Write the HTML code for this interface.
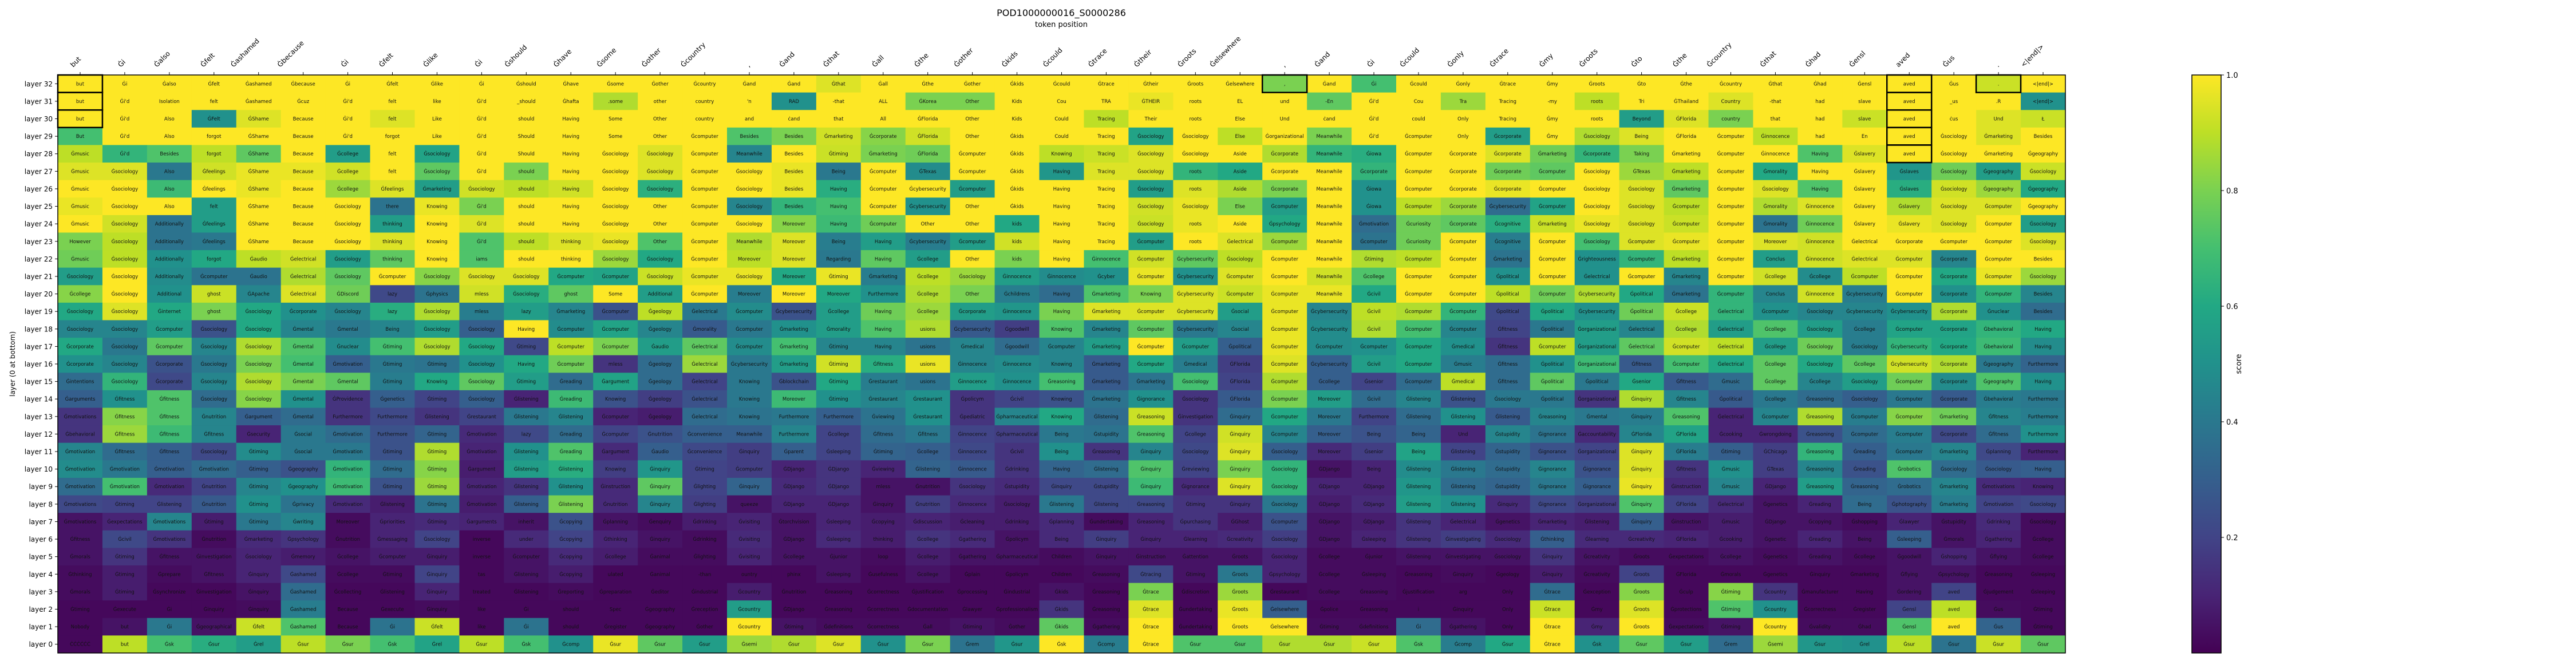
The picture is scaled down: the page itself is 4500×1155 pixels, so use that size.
<!DOCTYPE html>
<html><head><meta charset="utf-8"><title>POD1000000016_S0000286</title>
<style>
html,body{margin:0;padding:0;background:#fff;}
svg{display:block;}
text{font-family:"DejaVu Sans","Liberation Sans",sans-serif;}
</style></head>
<body>
<svg id="chart" xmlns="http://www.w3.org/2000/svg" width="4500" height="1155" viewBox="0 0 4500 1155">
  <defs>
    <linearGradient id="viridis" x1="0" y1="1" x2="0" y2="0">
      <stop offset="0" stop-color="#440154"/><stop offset="0.1" stop-color="#482475"/>
      <stop offset="0.2" stop-color="#414487"/><stop offset="0.3" stop-color="#355f8d"/>
      <stop offset="0.4" stop-color="#2a788e"/><stop offset="0.5" stop-color="#21918c"/>
      <stop offset="0.6" stop-color="#22a884"/><stop offset="0.7" stop-color="#44bf70"/>
      <stop offset="0.8" stop-color="#7ad151"/><stop offset="0.9" stop-color="#bddf26"/>
      <stop offset="1" stop-color="#fde725"/>
    </linearGradient>
  </defs>
  <text x="1854" y="28" text-anchor="middle" font-size="16">POD1000000016_S0000286</text>
  <text x="1854" y="47" text-anchor="middle" font-size="13">token position</text>
  <text transform="translate(26,636) rotate(-90)" text-anchor="middle" font-size="12">layer (0 at bottom)</text>
  <g id="cells"></g>
  <g id="xticks"></g>
  <g id="yticks"></g>
  <g id="boxes"></g>
  <rect x="101" y="131" width="3507" height="1010" fill="none" stroke="#000" stroke-width="1.5"/>
  <g id="cbar">
    <rect x="3829" y="131" width="51" height="1010" fill="url(#viridis)" stroke="#000" stroke-width="1.5"/>
    <text transform="translate(3915,636) rotate(-90)" text-anchor="middle" font-size="13">score</text>
  </g>
</svg>
<script>
const tokens = "but Ġi Ġalso Ġfelt Ġashamed Ġbecause Ġi Ġfelt Ġlike Ġi Ġshould Ġhave Ġsome Ġother Ġcountry , Ġand Ġthat Ġall Ġthe Ġother Ġkids Ġcould Ġtrace Ġtheir Ġroots Ġelsewhere , Ġand Ġi Ġcould Ġonly Ġtrace Ġmy Ġroots Ġto Ġthe Ġcountry Ġthat Ġhad Ġensl aved Ġus . <|end|>".split(" ");
const layerLabels = [32,31,30,29,28,27,26,25,24,23,22,21,20,19,18,17,16,15,14,13,12,11,10,9,8,7,6,5,4,3,2,1,0];
const cbTicks = [0.2,0.4,0.6,0.8,1.0];
const cbTickLabels = ["0.2","0.4","0.6","0.8","1.0"];
const highlighted = [[32,0],[31,0],[30,0],[32,27],[32,41],[31,41],[30,41],[29,41],[28,41],[32,43]];

const cellText = [
"but Ġi Ġalso Ġfelt Ġashamed Ġbecause Ġi Ġfelt Ġlike Ġi Ġshould Ġhave Ġsome Ġother Ġcountry | Ġand Ġand Ġthat Ġall Ġthe Ġother Ġkids Ġcould Ġtrace Ġtheir Ġroots Ġelsewhere , Ġand Ġi | Ġcould Ġonly Ġtrace Ġmy Ġroots Ġto Ġthe Ġcountry Ġthat Ġhad Ġensl aved Ġus . <|end|>",
"but Ġi'd Isolation felt Ġashamed Ġcuz Ġi'd felt like Ġi'd _should Ġhafta .some other country | 'n RAD -that ALL ĠKorea Other Kids Cou TRA ĠTHEIR roots EL und -En Ġi'd | Cou Tra Tracing -my roots Tri ĠThailand Country -that had slave aved _us .R <|end|>",
"but Ġi'd Also ĠFelt ĠShame Because Ġi'd felt Like Ġi'd should Having Some Other country | and ċand that All ĠFlorida Other Kids Could Tracing Their roots Else Und ċand Ġi'd | could Only Tracing Ġmy roots Beyond ĠFlorida country that had slave aved ċus Und Ł",
"But Ġi'd Also forgot ĠShame Because Ġi'd forgot Like Ġi'd Should Having Some Other Ġcomputer | Besides Besides Ġmarketing Ġcorporate ĠFlorida Other Ġkids Could Tracing Ġsociology Ġsociology Else Ġorganizational Meanwhile Ġi'd | Ġcomputer Only Ġcorporate Ġmy Ġsociology Being ĠFlorida Ġcomputer Ġinnocence had En aved Ġsociology Ġmarketing Besides",
"Ġmusic Ġi'd Besides forgot ĠShame Because Ġcollege felt Ġsociology Ġi'd Should Having Ġsociology Ġsociology Ġcomputer | Meanwhile Besides Ġtiming Ġmarketing ĠFlorida Ġcomputer Ġkids Knowing Tracing Ġsociology Ġsociology Aside Ġcorporate Meanwhile Ġiowa | Ġcomputer Ġcorporate Ġcorporate Ġmarketing Ġcorporate Taking Ġmarketing Ġcomputer Ġinnocence Having Ġslavery aved Ġsociology Ġmarketing Ġgeography",
"Ġmusic Ġsociology Also Ġfeelings ĠShame Because Ġcollege felt Ġsociology Ġi'd should Having Ġsociology Ġsociology Ġcomputer | Ġsociology Besides Being Ġcomputer ĠTexas Ġcomputer Ġkids Having Tracing Ġsociology roots Aside Ġcorporate Meanwhile Ġcorporate | Ġcomputer Ġcorporate Ġcorporate Ġcomputer Ġsociology ĠTexas Ġmarketing Ġcomputer Ġmorality Having Ġslavery Ġslaves Ġsociology Ġgeography Ġsociology",
"Ġmusic Ġsociology Also Ġfeelings ĠShame Because Ġcollege Ġfeelings Ġmarketing Ġsociology should Having Ġsociology Ġsociology Ġcomputer | Ġsociology Besides Having Ġcomputer Ġcybersecurity Ġcomputer Ġkids Having Tracing Ġsociology roots Aside Ġcorporate Meanwhile Ġiowa | Ġcomputer Ġcorporate Ġcorporate Ġcomputer Ġsociology Ġsociology Ġmarketing Ġcomputer Ġsociology Having Ġslavery Ġslaves Ġsociology Ġgeography Ġgeography",
"Ġmusic Ġsociology Also felt ĠShame Because Ġsociology there Knowing Ġi'd should Having Ġsociology Other Ġcomputer | Ġsociology Besides Having Ġcomputer Ġcybersecurity Other Ġkids Having Tracing Ġsociology Ġsociology Else Ġcomputer Meanwhile Ġiowa | Ġcomputer Ġcorporate Ġcybersecurity Ġcomputer Ġsociology Ġsociology Ġcomputer Ġcomputer Ġmorality Ġinnocence Ġslavery Ġslavery Ġsociology Ġcomputer Ġgeography",
"Ġmusic Ġsociology Additionally Ġfeelings ĠShame Because Ġsociology thinking Knowing Ġi'd should Having Ġsociology Other Ġcomputer | Ġsociology Moreover Having Ġcomputer Other Other kids Having Tracing Ġsociology roots Aside Ġpsychology Meanwhile Ġmotivation | Ġcuriosity Ġcorporate Ġcognitive Ġmarketing Ġsociology Ġsociology Ġcomputer Ġcomputer Ġmorality Ġinnocence Ġslavery Ġslavery Ġsociology Ġcomputer Ġsociology",
"However Ġsociology Additionally Ġfeelings ĠShame Because Ġsociology thinking Knowing Ġi'd should thinking Ġsociology Other Ġcomputer | Meanwhile Moreover Being Having Ġcybersecurity Ġcomputer kids Having Tracing Ġcomputer roots Ġelectrical Ġcomputer Meanwhile Ġcomputer | Ġcuriosity Ġcomputer Ġcognitive Ġcomputer Ġsociology Ġcomputer Ġcomputer Ġcomputer Moreover Ġinnocence Ġelectrical Ġcorporate Ġcomputer Ġcomputer Ġsociology",
"Ġmusic Ġsociology Additionally forgot Ġaudio Ġelectrical Ġsociology thinking Knowing iams should thinking Ġsociology Ġsociology Ġcomputer | Moreover Moreover Regarding Having Ġcollege Other kids Having Ġinnocence Ġcomputer Ġcybersecurity Ġsociology Ġcomputer Meanwhile Ġtiming | Ġcomputer Ġcomputer Ġmarketing Ġcomputer Ġrighteousness Ġcomputer Ġmarketing Ġcomputer Conclus Ġinnocence Ġelectrical Ġcomputer Ġcorporate Ġcomputer Besides",
"Ġsociology Ġsociology Additionally Ġcomputer Ġaudio Ġelectrical Ġsociology Ġcomputer Ġsociology Ġsociology Ġsociology Ġcomputer Ġcomputer Ġsociology Ġcomputer | Ġsociology Moreover Ġtiming Ġmarketing Ġcollege Ġsociology Ġinnocence Ġinnocence Ġcyber Ġcomputer Ġcybersecurity Ġcomputer Ġcomputer Meanwhile Ġcollege | Ġcomputer Ġcomputer Ġpolitical Ġcomputer Ġelectrical Ġcomputer Ġmarketing Ġcomputer Ġcollege Ġcollege Ġcomputer Ġcomputer Ġcorporate Ġcomputer Ġsociology",
"Ġcollege Ġsociology Additional ghost ĠApache Ġelectrical ĠDiscord lazy Ġphysics mless Ġsociology ghost Some Additional Ġcomputer | Moreover Moreover Moreover Furthermore Ġcollege Other Ġchildrens Having Ġmarketing Knowing Ġcybersecurity Ġcomputer Ġcomputer Meanwhile Ġcivil | Ġcomputer Ġcomputer Ġpolitical Ġcomputer Ġcybersecurity Ġpolitical Ġmarketing Ġcomputer Conclus Ġinnocence Ġcybersecurity Ġcomputer Ġcorporate Ġcomputer Besides",
"Ġsociology Ġsociology Ġinternet ghost Ġsociology Ġcorporate Ġsociology lazy Ġsociology mless lazy Ġmarketing Ġcomputer Ġgeology Ġelectrical | Ġcomputer Ġcybersecurity Ġcollege Having Ġcollege Ġcorporate Ġinnocence Having Ġmarketing Ġcomputer Ġcybersecurity Ġsocial Ġcomputer Ġcybersecurity Ġcivil | Ġcomputer Ġcomputer Ġpolitical Ġpolitical Ġcybersecurity Ġpolitical Ġcollege Ġelectrical Ġcomputer Ġsociology Ġcybersecurity Ġcybersecurity Ġcorporate Ġnuclear Besides",
"Ġsociology Ġsociology Ġcomputer Ġsociology Ġsociology Ġmental Ġmental Being Ġsociology Ġsociology Having Ġcomputer Ġcomputer Ġgeology Ġmorality | Ġcomputer Ġmarketing Ġmorality Having usions Ġcybersecurity Ġgoodwill Knowing Ġmarketing Ġcomputer Ġcybersecurity Ġsocial Ġcomputer Ġcybersecurity Ġcivil | Ġcomputer Ġcomputer Ġfitness Ġpolitical Ġorganizational Ġelectrical Ġcollege Ġelectrical Ġcollege Ġsociology Ġcollege Ġcomputer Ġcorporate Ġbehavioral Having",
"Ġcorporate Ġsociology Ġcomputer Ġsociology Ġsociology Ġmental Ġnuclear Ġtiming Ġsociology Ġsociology Ġtiming Ġcomputer Ġcomputer Ġaudio Ġelectrical | Ġcomputer Ġmarketing Ġtiming Having usions Ġmedical Ġgoodwill Ġcomputer Ġmarketing Ġcomputer Ġcomputer Ġpolitical Ġcomputer Ġcomputer Ġcomputer | Ġcomputer Ġmedical Ġfitness Ġcomputer Ġorganizational Ġelectrical Ġcomputer Ġelectrical Ġcollege Ġsociology Ġsociology Ġcybersecurity Ġcorporate Ġbehavioral Having",
"Ġcorporate Ġsociology Ġcorporate Ġsociology Ġsociology Ġmental Ġmotivation Ġtiming Ġtiming Ġsociology Having Ġcomputer mless Ġgeology Ġelectrical | Ġcybersecurity Ġmarketing Ġtiming Ġfitness usions Ġinnocence Ġinnocence Knowing Ġmarketing Ġcomputer Ġmedical ĠFlorida Ġcomputer Ġcybersecurity Ġcivil | Ġcomputer Ġmusic Ġfitness Ġpolitical Ġorganizational Ġfitness Ġcomputer Ġelectrical Ġcollege Ġsociology Ġcollege Ġcybersecurity Ġcorporate Ġgeography Furthermore",
"Ġintentions Ġsociology Ġcorporate Ġsociology Ġsociology Ġmental Ġmental Ġtiming Knowing Ġsociology Ġtiming Ġreading Ġargument Ġgeology Ġelectrical | Knowing Ġblockchain Ġtiming Ġrestaurant usions Ġinnocence Ġinnocence Ġreasoning Ġmarketing Ġmarketing Ġsociology ĠFlorida Ġcomputer Ġcollege Ġsenior | Ġcomputer Ġmedical Ġfitness Ġpolitical Ġpolitical Ġsenior Ġfitness Ġmusic Ġcollege Ġcollege Ġsociology Ġcomputer Ġcorporate Ġgeography Having",
"Ġarguments Ġfitness Ġfitness Ġsociology Ġsociology Ġmental ĠProvidence Ġgenetics Ġtiming Ġsociology Ġlistening Ġreading Knowing Ġgeology Ġelectrical | Knowing Moreover Ġtiming Ġrestaurant Ġrestaurant Ġpolicym Ġcivil Knowing Ġmarketing Ġignorance Ġsociology ĠFlorida Ġcomputer Moreover Ġcivil | Ġlistening Ġlistening Ġsociology Ġpolitical Ġorganizational Ġinquiry Ġfitness Ġpolitical Ġcollege Ġreasoning Ġsociology Ġcomputer Ġcorporate Ġbehavioral Furthermore",
"Ġmotivations Ġfitness Ġfitness Ġnutrition Ġargument Ġmental Furthermore Furthermore Ġlistening Ġrestaurant Ġlistening Ġlistening Ġcomputer Ġgeology Ġelectrical | Knowing Furthermore Furthermore Ġviewing Ġrestaurant Ġpediatric Ġpharmaceutical Knowing Ġlistening Ġreasoning Ġinvestigation Ġinquiry Ġcomputer Moreover Furthermore | Ġlistening Ġlistening Ġlistening Ġreasoning Ġmental Ġinquiry Ġreasoning Ġelectrical Ġcomputer Ġreasoning Ġcomputer Ġcomputer Ġmarketing Ġfitness Furthermore",
"Ġbehavioral Ġfitness Ġfitness Ġfitness Ġsecurity Ġsocial Ġmotivation Furthermore Ġtiming Ġmotivation lazy Ġreading Ġcomputer Ġnutrition Ġconvenience | Meanwhile Furthermore Ġcollege Ġfitness Ġfitness Ġinnocence Ġpharmaceutical Being Ġstupidity Ġreasoning Ġcollege Ġinquiry Ġcomputer Moreover Being | Being Und Ġstupidity Ġignorance Ġaccountability ĠFlorida ĠFlorida Ġcooking Ġwrongdoing Ġreasoning Ġcomputer Ġcomputer Ġcorporate Ġfitness Furthermore",
"Ġmotivation Ġfitness Ġfitness Ġsociology Ġtiming Ġsocial Ġmotivation Ġtiming Ġtiming Ġmotivation Ġlistening Ġreading Ġargument Ġaudio Ġconvenience | Ġinquiry Ġparent Ġsleeping Ġtiming Ġcollege Ġinnocence Ġcivil Being Ġreasoning Ġinquiry Ġsociology Ġinquiry Ġsociology Moreover Ġsenior | Being Ġlistening Ġstupidity Ġignorance Ġorganizational Ġinquiry ĠFlorida Ġtiming ĠChicago Ġreasoning Ġreading Ġcomputer Ġmarketing Ġplanning Furthermore",
"Ġmotivation Ġmotivation Ġmotivation Ġmotivation Ġtiming Ġgeography Ġmotivation Ġtiming Ġtiming Ġargument Ġlistening Ġlistening Knowing Ġinquiry Ġtiming | Ġcomputer ĠDjango ĠDjango Ġviewing Ġlistening Ġinnocence Ġdrinking Having Ġlistening Ġinquiry Ġreviewing Ġinquiry Ġsociology ĠDjango Being | Ġlistening Ġlistening Ġstupidity Ġignorance Ġignorance Ġinquiry Ġfitness Ġmusic ĠTexas Ġreasoning Ġreading Ġrobotics Ġsociology Ġsociology Having",
"Ġmotivation Ġmotivation Ġmotivation Ġnutrition Ġtiming Ġgeography Ġmotivation Ġtiming Ġtiming Ġmotivation Ġlistening Ġlistening Ġinstruction Ġinquiry Ġlighting | Ġinquiry ĠDjango ĠDjango mless Ġnutrition Ġsociology Ġstupidity Ġinquiry Ġstupidity Ġinquiry Ġignorance Ġinquiry Ġsociology ĠDjango ĠDjango | Ġlistening Ġlistening Ġstupidity Ġignorance Ġignorance Ġinquiry Ġinstruction Ġmusic ĠDjango Ġreasoning Ġreasoning Ġrobotics Ġmarketing Ġmotivations Knowing",
"Ġmotivations Ġtiming Ġlistening Ġnutrition Ġtiming Ġprivacy Ġmotivation Ġlistening Ġtiming Ġmotivation Ġlistening Ġlistening Ġnutrition Ġinquiry Ġlighting | queeze ĠDjango ĠDjango Ġinquiry Ġnutrition Ġinnocence Ġsociology Ġlistening Ġlistening Ġreasoning Ġtiming Ġinquiry Ġsociology ĠDjango ĠDjango | Ġlistening Ġlistening Ġinquiry Ġignorance Ġorganizational Ġinquiry ĠFlorida Ġelectrical Ġgenetics Ġreading Being Ġphotography Ġmarketing Ġmotivation Ġsociology",
"Ġmotivations Ġexpectations Ġmotivations Ġtiming Ġtiming Ġwriting Moreover Ġpriorities Ġtiming Ġarguments inherit Ġcopying Ġplanning Ġenquiry Ġdrinking | Ġvisiting Ġtorchvision Ġsleeping Ġcopying Ġdiscussion Ġcleaning Ġdrinking Ġplanning Ġundertaking Ġreasoning Ġpurchasing ĠGhost Ġcomputer ĠDjango ĠDjango | Ġlistening Ġelectrical Ġgenetics Ġmarketing Ġlistening Ġinquiry Ġinstruction Ġmusic ĠDjango Ġcopying Ġshopping Ġlawyer Ġstupidity Ġdrinking Ġsociology",
"Ġfitness Ġcivil Ġmotivations Ġnutrition Ġmarketing Ġpsychology Ġnutrition Ġmessaging Ġsociology inverse under Ġcopying Ġthinking Ġinquiry Ġdrinking | Ġvisiting ĠDjango Ġsleeping thinking Ġcollege Ġgathering Ġpolicym Being Ġinquiry Ġinquiry Ġlearning Ġcreativity Ġsociology ĠDjango Ġsleeping | Ġlistening Ġinvestigating Ġsociology Ġthinking Ġlearning Ġcreativity ĠFlorida Ġcooking Ġgenetic Ġreading Being Ġsleeping Ġmorals Ġgathering Ġcollege",
"Ġmorals Ġtiming Ġfitness Ġinvestigation Ġsociology Ġmemory Ġcollege Ġcomputer Ġinquiry inverse Ġcomputer Ġcopying Ġcollege Ġanimal Ġlighting | Ġvisiting Ġcollege Ġjunior loop Ġcollege Ġgathering Ġpharmaceutical Children Ġinquiry Ġinstruction Ġattention Ġroots Ġsociology Ġcollege Ġjunior | Ġlistening Ġinvestigating Ġsociology Ġinquiry Ġcreativity Ġroots Ġexpectations Ġcollege Ġgenetics Ġreading Ġcollege Ġgoodwill Ġshopping Ġflying Ġcollege",
"Ġthinking Ġtiming Ġprepare Ġfitness Ġinquiry Ġashamed Ġcollege Ġtiming Ġinquiry tas Ġlistening Ġcopying ulated Ġanimal -than | ountry phinx Ġsleeping Ġusefulness Ġcollege Ġplain Ġpolicym Children Ġreasoning Ġtracing Ġtiming Ġroots Ġpsychology Ġcollege Ġsleeping | Ġreasoning Ġinquiry Ġgeology Ġinquiry Ġcreativity Ġroots ĠFlorida Ġmorals Ġgenetics Ġinquiry Ġmarketing Ġflying Ġpsychology Ġreasoning Ġsleeping",
"Ġmorals Ġtiming Ġsynchronize Ġinvestigation Ġinquiry Ġashamed Ġcollecting Ġlistening Ġinquiry treated Ġlistening Ġreporting Ġpreparation Ġeditor Ġindustrial | Ġcountry Ġnutrition Ġreasoning Ġcorrectness Ġjustification Ġprocessing Ġindustrial Ġkids Ġreasoning Ġtrace Ġdiscretion Ġroots Ġrestaurant Ġcollege Ġreasoning | Ġjustification arg Only Ġtrace Ġexception Ġroots Ġculp Ġtiming Ġcountry Ġmanufacturer Having Ġordering aved Ġjudgement Ġsleeping",
"Ġtiming Ġexecute Ġi Ġinquiry Ġinquiry Ġashamed Because Ġexecute Ġinquiry like Ġi should Spec Ġgeography Ġreception | Ġcountry ĠDjango Ġreasoning Ġcorrectness Ġdocumentation Ġlawyer Ġprofessionalism Ġkids Ġreasoning Ġtrace Ġundertaking Ġroots Ġelsewhere Ġpolice Ġreasoning | i Ġinquiry Only Ġtrace Ġmy Ġroots Ġprotections Ġtiming Ġcountry Ġcorrectness Ġregister Ġensl aved Ġus Ġtiming",
"Nobody but Ġi Ġgeographical Ġfelt Ġashamed Because Ġi Ġfelt like Ġi should Ġregister Ġgeography Ġother | Ġcountry Ġtiming Ġdefinitions Ġcorrectness Ġall Ġtiming Ġother Ġkids Ġgathering Ġtrace Ġundertaking Ġroots Ġelsewhere Ġtiming Ġdefinitions | Ġi Ġgathering Only Ġtrace Ġmy Ġroots Ġexpectations Ġtiming Ġcountry Ġvalidity Ġhad Ġensl aved Ġus Ġtiming",
"ĊĊĊĊĊĊ but Ġsk Ġsur Ġrel Ġsur Ġsur Ġsk Ġrel Ġsur Ġsk Ġcomp Ġsur Ġsur Ġsur | Ġsemi Ġsur Ġsur Ġsur Ġsur Ġrem Ġsur Ġsk Ġcomp Ġtrace Ġsur Ġsur Ġsur Ġsur Ġsur | Ġsk Ġcomp Ġsur Ġtrace Ġsk Ġsur Ġsur Ġrem Ġsemi Ġsur Ġrel Ġsur Ġsur Ġsur Ġsur"
];

const scores = [
[1,1,1,1,1,1,1,1,1,1,1,1,1,1,1, 1,1,.95,1,1,1,1,1,1,1,1,1,.8,1,.7, 1,1,1,1,1,1,1,1,1,1,1,1,1,.92,1],
[1,1,1,1,1,1,1,1,1,1,1,1,.88,1,1, 1,.5,1,1,.8,.8,1,1,1,.97,1,1,1,.75,1, 1,.85,1,1,.9,1,1,.95,1,1,1,1,1,1,.5],
[1,1,1,.5,.95,1,1,.95,1,1,1,1,1,1,1, 1,1,1,1,1,1,1,1,.9,1,1,1,1,1,1, 1,1,1,1,1,.55,.95,.8,1,1,.92,1,1,.95,.92],
[.7,1,1,1,1,1,1,1,1,1,1,1,1,1,1, .72,.8,.93,.82,.93,1,1,1,1,.58,1,.9,1,.8,1, 1,1,.55,1,.88,.95,1,1,.9,1,1,1,1,.95,1],
[.9,.65,.72,.9,.75,1,.55,1,.58,1,1,1,1,.95,1, .45,1,.92,.8,.78,1,1,.9,.92,.95,1,1,.88,.65,.62, 1,1,.95,.78,.65,.8,1,1,1,.72,.95,1,1,1,1],
[.95,.95,.4,.93,.97,.97,.93,1,.75,1,.8,1,1,.95,1, 1,.97,.4,1,.48,1,1,.52,.95,.95,.65,.6,1,1,.65, 1,1,.78,.75,1,.85,.9,1,.6,1,1,.52,.78,.55,.92],
[1,1,.68,1,.97,1,.85,.95,.55,.93,.9,.93,1,.63,1, 1,.97,.62,1,1,.55,1,1,1,.55,.95,.88,.8,1,.5, 1,1,.97,1,1,.95,.75,1,.95,.72,1,.62,.93,.85,.6],
[.97,1,1,.55,1,1,1,.38,.97,.8,1,1,1,1,1, .45,.65,.7,1,.5,1,1,1,1,.93,.97,.8,.55,1,.5, .9,.85,.35,.58,1,.95,.9,1,.88,.95,1,.88,.95,.95,1],
[1,.93,.38,.55,1,1,1,.55,1,.95,1,1,1,1,1, 1,.82,.68,.78,1,1,.6,1,1,.92,.97,1,.6,1,.35, .78,.75,.62,.92,.97,.95,.92,1,.38,.78,1,.97,.95,1,.55],
[.8,.9,.38,.4,1,1,1,.95,1,.72,.9,.95,.97,.72,1, .88,.95,.42,.55,.42,.55,.93,1,1,.55,1,.95,.85,1,.38, .78,1,.42,1,.7,.95,.97,1,.95,.93,1,1,1,1,.95],
[.78,.9,.5,.6,.9,.93,.55,.75,1,.72,1,1,.85,.6,1, .9,.95,.4,.75,.55,1,.8,1,.7,.93,.75,.9,1,1,.88, .9,1,.38,1,.5,.65,.9,1,.55,.93,.95,.95,.45,1,1],
[.55,1,.48,.38,.38,.88,.75,1,.82,.95,.95,.6,.58,.92,.97, .97,.6,.97,.42,.9,.85,.55,.48,.5,.97,.5,.95,1,.93,.72, 1,1,.5,1,.5,1,.45,1,.93,.48,.9,1,.6,.97,.85],
[.82,1,.5,.92,.45,.95,.78,.22,.38,.93,.62,.75,1,.55,1, .42,1,.6,.5,.88,.8,.42,.35,.72,.8,.95,.92,.97,.97,.6, 1,1,.9,.78,.88,.6,.38,.65,.45,.93,.42,1,.5,.65,.45],
[.6,.95,.6,.8,.6,.5,.45,.62,.88,.42,.55,.45,.25,.9,.4, .48,.25,.55,.78,.85,.55,.52,.8,.95,.95,.95,.55,.97,.45,.9, .88,.65,.22,.6,.5,.78,.92,.65,.5,.45,.45,.5,.88,.5,.35],
[.45,.45,.55,.25,.6,.45,.4,.45,.55,.3,1,.48,.58,.45,.28, .4,.5,.55,.72,.88,.28,.18,.72,.45,.75,.4,.45,.97,.48,.88, .7,.45,.2,.4,.55,.45,.88,.55,.72,.55,.42,.58,.58,.65,.6],
[.6,.4,.75,.45,.88,.72,.48,.7,.88,.6,.22,.9,.8,.55,.75, .48,.7,.45,.45,.38,.45,.35,.45,.55,1,.55,.3,.97,.48,.5, .6,.5,.15,.9,.55,.75,.93,.9,.55,.78,.42,.65,.6,.68,.48],
[.5,.45,.25,.4,.8,.7,.3,.4,.38,.5,.6,.78,.15,.35,.85, .4,.55,.93,.62,.97,.45,.48,.45,.28,.6,.42,.18,.95,.3,.55, .6,.42,.35,.5,.68,.28,.7,.6,.75,.6,.75,.93,.88,.4,.32],
[.35,.65,.22,.45,.88,.8,.75,.42,.6,.75,.55,.35,.58,.35,.2, .4,.25,.6,.42,.38,.55,.5,.7,.28,.38,.7,.2,.88,.3,.2, .35,.9,.35,.75,.4,.6,.28,.35,.75,.45,.55,.78,.48,.72,.5],
[.3,.5,.72,.35,.82,.5,.15,.3,.2,.3,.1,.68,.25,.18,.25, .4,.68,.5,.45,.5,.15,.2,.25,.38,.5,.15,.28,.8,.55,.35, .45,.25,.4,.4,.15,.88,.45,.28,.4,.35,.3,.4,.28,.42,.4],
[.15,.82,.72,.45,.3,.35,.15,.22,.15,.2,.4,.45,.1,.08,.35, .38,.4,.3,.38,.5,.15,.45,.6,.35,.92,.15,.35,.6,.4,.2, .35,.5,.28,.45,.4,.42,.72,.1,.45,.88,.42,.82,.78,.45,.42],
[.15,.85,.68,.45,.1,.4,.35,.25,.32,.12,.22,.35,.2,.25,.3, .3,.45,.2,.35,.4,.2,.18,.4,.38,.72,.2,.93,.45,.3,.25, .32,.1,.45,.38,.12,.45,.58,.1,.1,.25,.35,.42,.22,.35,.5],
[.45,.35,.3,.22,.48,.4,.4,.25,.88,.1,.5,.72,.12,.3,.22, .18,.3,.2,.32,.3,.22,.15,.5,.15,.45,.22,.95,.3,.12,.18, .58,.2,.32,.25,.2,.95,.42,.3,.18,.65,.3,.4,.45,.22,.1],
[.48,.4,.3,.35,.3,.25,.65,.35,.82,.08,.55,.62,.18,.52,.2, .18,.1,.15,.1,.32,.28,.15,.32,.35,.72,.2,.8,.65,.05,.1, .48,.4,.35,.45,.25,.95,.15,.5,.18,.45,.25,.72,.35,.28,.3],
[.35,.7,.12,.2,.45,.5,.68,.25,.85,.1,.15,.5,.12,.75,.2, .32,.12,.15,.05,.05,.15,.12,.22,.22,.68,.12,.95,.65,.1,.1, .52,.35,.32,.4,.3,.97,.12,.45,.1,.55,.32,.35,.45,.12,.1],
[.22,.2,.2,.28,.5,.38,.12,.08,.38,.08,.3,.8,.12,.45,.18, .05,.1,.1,.05,.18,.12,.08,.4,.22,.22,.15,.15,.4,.08,.12, .55,.5,.12,.22,.18,.72,.2,.12,.05,.1,.35,.25,.42,.2,.22],
[.05,.1,.45,.08,.4,.45,.03,.1,.12,.1,.05,.25,.05,.03,.08, .1,.05,.1,.08,.1,.08,.08,.12,.03,.1,.15,.08,.25,.05,.08, .15,.1,.05,.1,.08,.3,.05,.08,.05,.05,.03,.1,.05,.12,.03],
[.05,.22,.15,.03,.12,.15,.03,.1,.2,.02,.12,.2,.1,.05,.03, .12,.05,.12,.08,.15,.12,.05,.12,.18,.1,.1,.12,.18,.05,.1, .15,.18,.12,.3,.12,.12,.1,.08,.05,.1,.05,.3,.05,.1,.03],
[.05,.15,.05,.05,.1,.08,.05,.08,.08,.02,.05,.12,.08,.03,.03, .1,.05,.05,.03,.08,.05,.05,.03,.05,.05,.05,.05,.1,.03,.03, .05,.05,.05,.15,.05,.03,.03,.05,.03,.05,.03,.05,.1,.05,.03],
[.03,.08,.03,.05,.1,.22,.03,.03,.2,.02,.05,.08,.02,.02,.02, .02,.02,.05,.02,.05,.02,.02,.02,.03,.22,.05,.4,.1,.03,.03, .02,.03,.02,.08,.03,.2,.02,.02,.02,.02,.02,.05,.05,.02,.02],
[.03,.08,.02,.02,.05,.35,.02,.02,.1,.02,.02,.03,.02,.02,.02, .08,.02,.02,.02,.02,.02,.02,.05,.02,.8,.02,.85,.02,.03,.03, .02,.02,.02,.35,.02,.82,.02,.82,.15,.02,.02,.05,.2,.02,.02],
[.02,.02,.02,.02,.03,.42,.02,.02,.03,.02,.02,.02,.02,.02,.02, .55,.02,.02,.02,.02,.02,.02,.15,.02,.95,.02,.97,.3,.02,.02, .02,.02,.02,.92,.02,.95,.02,.72,.5,.02,.02,.2,.9,.03,.02],
[.02,.05,.4,.05,.92,.72,.02,.38,.92,.02,.38,.02,.02,.02,.02, 1,.05,.03,.03,.03,.05,.03,.75,.03,1,.02,1,1,.03,.03, .35,.05,.02,1,.1,1,.03,.05,1,.03,.03,.72,1,.32,.02],
[.02,.9,.7,.62,.55,.9,.8,.7,.58,.9,.7,.5,.97,.75,.55, .85,.88,.95,.5,.8,.38,.52,1,.42,1,.72,.72,.88,.88,.92, .72,.42,.6,1,.5,.75,.55,.35,.85,.52,.5,.9,.38,.92,.75]
];

const NS = "http://www.w3.org/2000/svg";
const X0 = 101, Y0 = 131, W = 3507, H = 1010;
const nCols = tokens.length, nRows = layerLabels.length;
const cw = W / nCols, rh = H / nRows;
function xPos(c){ return X0 + c * cw; }
function yPos(layer){ return Y0 + (layerLabels[0] - layer) * rh; }
function cbY(v){ return Y0 + H - v * H; }
const VIR = ["#440154","#482475","#414487","#355f8d","#2a788e","#21918c","#22a884","#44bf70","#7ad151","#bddf26","#fde725"];
function hex(h){ return [parseInt(h.slice(1,3),16),parseInt(h.slice(3,5),16),parseInt(h.slice(5,7),16)]; }
function viridis(v){
  v = Math.max(0, Math.min(1, v));
  const p = v * 10, i = Math.min(9, Math.floor(p)), t = p - i;
  const a = hex(VIR[i]), b = hex(VIR[i+1]);
  return "rgb(" + a.map((x,k)=>Math.round(x + (b[k]-x)*t)).join(",") + ")";
}
function mk(tag, attrs, parent){
  const el = document.createElementNS(NS, tag);
  for (const k in attrs) el.setAttribute(k, attrs[k]);
  parent.appendChild(el);
  return el;
}

const gCells = document.getElementById("cells");
layerLabels.forEach((layer, r) => {
  const texts = cellText[r].split(/\s+/).filter(t => t !== "|");
  const row = scores[r];
  for (let c = 0; c < nCols; c++) {
    const rect = mk("rect", {x: xPos(c).toFixed(2), y: yPos(layer).toFixed(2), width: (cw + 0.6).toFixed(2), height: (rh + 0.6).toFixed(2), fill: viridis(row[c])}, gCells);
    
    
    const tx = mk("text", {x: (xPos(c) + cw/2).toFixed(2), y: (yPos(layer) + rh/2 + 3).toFixed(2), "text-anchor": "middle", "font-size": "8.5", fill: "#111"}, gCells);
    tx.textContent = texts[c] || "";
    
    
  }
});

const gx = document.getElementById("xticks");
tokens.forEach((tok, c) => {
  const cx = xPos(c) + cw/2;
  const tk = mk("line", {x1: cx, y1: Y0 - 5, x2: cx, y2: Y0, stroke: "#000", "stroke-width": 1}, gx);
  
  
  const t = mk("text", {"font-size": "12", "text-anchor": "start"}, gx);
  t.textContent = tok;
  
  
  let L = 0;
  try { L = t.getComputedTextLength(); } catch(e) { L = tok.length * 7; }
  if (!L) L = tok.length * 7;
  const d = L * 0.7071;
  t.setAttribute("transform", "translate(" + (cx - d + 2).toFixed(2) + "," + (Y0 - 13) + ") rotate(-45)");
});

const gy = document.getElementById("yticks");
layerLabels.forEach((layer) => {
  const cy = yPos(layer) + rh/2;
  const tk = mk("line", {x1: X0 - 5, y1: cy, x2: X0, y2: cy, stroke: "#000", "stroke-width": 1}, gy);
  
  
  const t = mk("text", {x: X0 - 9, y: cy + 4.5, "text-anchor": "end", "font-size": "12"}, gy);
  t.textContent = "layer " + layer;
  
  
});

const gb = document.getElementById("boxes");
highlighted.forEach(([layer, c]) => {
  const b = mk("rect", {x: xPos(c).toFixed(2), y: yPos(layer).toFixed(2), width: cw.toFixed(2), height: rh.toFixed(2), fill: "none", stroke: "#000", "stroke-width": 2.5}, gb);
  
  
});

const gc = document.getElementById("cbar");
cbTicks.forEach((v, i) => {
  const y = cbY(v);
  const tk = mk("line", {x1: 3880, y1: y, x2: 3885, y2: y, stroke: "#000", "stroke-width": 1}, gc);
  
  
  const t = mk("text", {x: 3889, y: y + 5, "font-size": "13"}, gc);
  t.textContent = cbTickLabels[i];
  
  
});
</script>
</body></html>
